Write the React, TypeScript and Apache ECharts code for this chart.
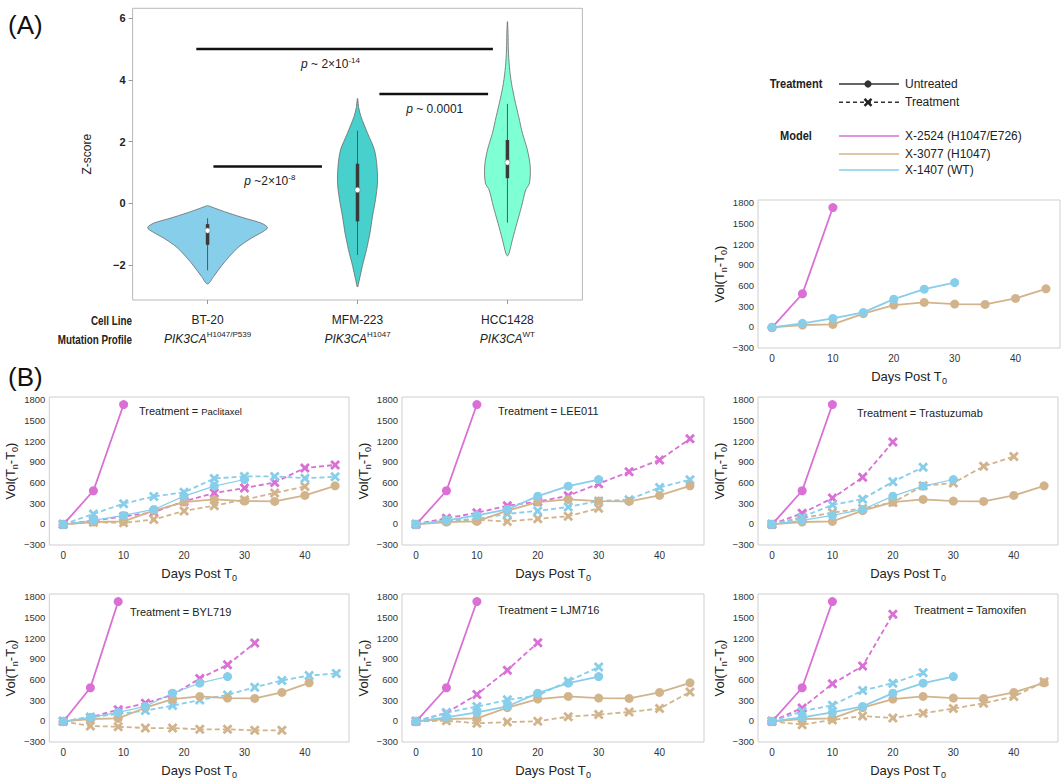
import React, { useEffect, useRef } from 'react';
import * as echarts from 'echarts';

// ---------- Panel A data ----------
const cellLines = ['BT-20', 'MFM-223', 'HCC1428'];
const mutations = ['H1047/P539', 'H1047', 'WT'];
const violinColors = ['#87CEEB', '#48D1CC', '#7FFFD4'];
// [z, half-width in category units]
const bt20Profile = [[-2.62, 0], [-2.38, 0.04], [-2.05, 0.09], [-1.73, 0.145], [-1.41, 0.21], [-1.14, 0.29], [-0.92, 0.37], [-0.79, 0.4], [-0.65, 0.36], [-0.49, 0.25], [-0.32, 0.14], [-0.13, 0.03], [-0.08, 0]];
const mfm223Profile = [[-2.72, 0], [-2.49, 0.012], [-2.05, 0.032], [-1.51, 0.06], [-0.97, 0.083], [-0.43, 0.1], [0.11, 0.12], [0.65, 0.133], [1.19, 0.13], [1.73, 0.113], [2.27, 0.067], [2.81, 0.023], [3.1, 0.008], [3.4, 0]];
const hcc1428Profile = [[-1.71, 0], [-1.62, 0.011], [-1.19, 0.033], [-0.65, 0.063], [-0.11, 0.094], [0.43, 0.122], [0.65, 0.147], [1.19, 0.152], [1.73, 0.133], [2.27, 0.1], [2.81, 0.075], [3.35, 0.049], [3.89, 0.027], [4.43, 0.013], [5.0, 0.006], [5.5, 0.004], [5.89, 0]];
// [whisker low, q1, median, q3, whisker high]
const boxStats = [[-2.18, -1.35, -0.89, -0.68, -0.49], [-1.68, -0.59, 0.43, 1.28, 2.35], [-0.63, 0.81, 1.32, 2.05, 3.22]];
// [x1, x2, z, label x]
const sigBars = [[-0.075, 1.903, 5.0, 0.82], [1.146, 1.871, 3.54, 1.515], [0.039, 0.763, 1.19, 0.415]];
const sigLabels = ['{i|p} ~ 2×10{s|-14}', '{i|p} ~ 0.0001', '{i|p} ~2×10{s|-8}'];
const zTicks = [-2, 0, 2, 4, 6];

// ---------- Panel B data ----------
const days = [0, 5, 10, 15, 20, 25, 30, 35, 40, 45];
const bylDays = [0, 4.5, 9.1, 13.6, 18.1, 22.6, 27.2, 31.7, 36.2, 40.7, 45.2];
const dayTicks = [0, 10, 20, 30, 40];
const volTicks = [-300, 0, 300, 600, 900, 1200, 1500, 1800];

const untreatedX2524 = [-15, 478, 1730];
const untreatedX3077 = [-10, 24, 33, 188, 313, 352, 328, 323, 410, 550];
const untreatedX1407 = [-10, 48, 120, 207, 400, 545, 641];

const treatments = ['Paclitaxel', 'LEE011', 'Trastuzumab', 'BYL719', 'LJM716', 'Tamoxifen'];

const paclitaxelX2524 = [-10, 46, 104, 166, 325, 445, 517, 599, 810, 853];
const paclitaxelX3077 = [-10, 22, 12, 60, 185, 262, 349, 445, 541];
const paclitaxelX1407 = [-10, 142, 290, 396, 455, 657, 686, 686, 661, 680];

const lee011X2524 = [-10, 80, 157, 262, 320, 407, 580, 753, 926, 1233];
const lee011X3077 = [-10, 46, 56, 32, 70, 108, 224];
const lee011X1407 = [-10, 46, 70, 142, 185, 243, 329, 349, 527, 637];

const trastuzumabX2524 = [-10, 151, 371, 673, 1185];
const trastuzumabX3077 = [-10, 80, 161, 220, 307, 551, 590, 834, 976];
const trastuzumabX1407 = [-10, 98, 273, 356, 610, 820];

const byl719X2524 = [-10, 49, 160, 253, 374, 612, 812, 1128];
const byl719X3077 = [-10, -78, -88, -107, -107, -126, -126, -141, -141];
const byl719X1407 = [-10, 49, 97, 146, 219, 301, 374, 486, 583, 656, 685];

const ljm716X2524 = [-10, 112, 379, 734, 1133];
const ljm716X3077 = [-10, 0, -39, -20, -10, 58, 88, 126, 175, 418];
const ljm716X1407 = [-10, 117, 204, 302, 365, 574, 778];

const tamoxifenX2524 = [-10, 185, 535, 793, 1547];
const tamoxifenX3077 = [-10, -58, 10, 68, 39, 107, 175, 253, 350, 564];
const tamoxifenX1407 = [-10, 136, 224, 438, 545, 696];

const modelNames = ['X-2524 (H1047/E726)', 'X-3077 (H1047)', 'X-1407 (WT)'];

// ---------- styles ----------
const MAGENTA = '#DA70D6';
const TAN = '#D2B48C';
const BLUE = '#87CEEB';
const fontR = 'Liberation Sans, Arial, Helvetica, sans-serif';
const fontN = 'Liberation Sans Narrow, Arial Narrow, Liberation Sans, Arial, sans-serif';
const XSYM = 'path://M2,0 L5,3 L8,0 L10,2 L7,5 L10,8 L8,10 L5,7 L2,10 L0,8 L3,5 L0,2 Z';

const panelGrids = [
  { left: 758, top: 200, width: 302, height: 148 },
  { left: 47, top: 397, width: 302, height: 148 },
  { left: 402, top: 397, width: 302, height: 148 },
  { left: 758, top: 397, width: 300, height: 148 },
  { left: 47, top: 594, width: 302, height: 148 },
  { left: 402, top: 594, width: 302, height: 148 },
  { left: 758, top: 594, width: 300, height: 148 },
];
const titlePos = [
  { left: 139, top: 404 },
  { left: 498, top: 404 },
  { left: 857, top: 406 },
  { left: 130, top: 605 },
  { left: 498, top: 603 },
  { left: 914, top: 603 },
];
const blueUntreatedWidth = [1.8, 1.1, 1.8, 1.1, 1.1, 1.8, 1.8];

const zip = (xs: number[], ys: number[]) => ys.map((v, i) => [xs[i], v]);
const minus = (v: number) => String(v).replace('-', '−');

function panelSeries(gi: number, dx: number[], treated: number[][] | null) {
  const out: any[] = [];
  const untreated = [untreatedX2524, untreatedX3077, untreatedX1407];
  const colors = [MAGENTA, TAN, BLUE];
  if (treated) {
    treated.forEach((vals, k) => {
      out.push({
        type: 'line', xAxisIndex: gi, yAxisIndex: gi, data: zip(dx, vals),
        symbol: XSYM, symbolSize: 10, showSymbol: true,
        lineStyle: { color: colors[k], width: 1.8, type: [5, 3] },
        itemStyle: { color: colors[k] }, z: 3,
      });
    });
  }
  untreated.forEach((vals, k) => {
    out.push({
      type: 'line', xAxisIndex: gi, yAxisIndex: gi, data: zip(dx, vals),
      symbol: 'circle', symbolSize: 9, showSymbol: true,
      lineStyle: { color: colors[k], width: k === 2 ? blueUntreatedWidth[gi - 1] : 1.8 },
      itemStyle: { color: colors[k] }, z: 4,
    });
  });
  return out;
}

export default function App() {
  const ref = useRef<HTMLDivElement>(null);
  useEffect(() => {
    if (!ref.current) return;
    const chart = echarts.init(ref.current, undefined, { renderer: 'svg' });
    const profiles = [bt20Profile, mfm223Profile, hcc1428Profile];

    const subRich = { sub: { fontSize: 9, lineHeight: 10, padding: [9, 0, 0, 0], color: '#222', fontFamily: fontR } };

    const grids: any[] = [
      { left: 132.6, top: 8.3, width: 449.8, height: 291.7, show: true, borderColor: '#b8b8b8', borderWidth: 1 },
      ...panelGrids.map((g) => ({ ...g, show: true, borderColor: '#cfcfcf', borderWidth: 1 })),
    ];

    const xAxes: any[] = [
      {
        type: 'value', gridIndex: 0, min: -0.5, max: 2.5, position: 'bottom',
        axisLine: { show: false, onZero: false }, splitLine: { show: false },
        axisTick: { show: true, customValues: [0, 1, 2], length: 4, lineStyle: { color: '#999' } },
        axisLabel: {
          customValues: [0, 1, 2], margin: 11,
          formatter: (v: number) => `{c|${cellLines[v]}}\n{i|PIK3CA}{s|${mutations[v]}}`,
          rich: {
            c: { fontSize: 12, lineHeight: 18.6, fontFamily: fontR, color: '#222' },
            i: { fontSize: 12, fontStyle: 'italic', lineHeight: 18.6, fontFamily: fontR, color: '#222' },
            s: { fontSize: 8, lineHeight: 10, padding: [0, 0, 8.6, 0], fontFamily: fontR, color: '#222' },
          },
        },
      },
    ];
    const yAxes: any[] = [
      {
        type: 'value', gridIndex: 0, min: -3.14, max: 6.32, position: 'left',
        axisLine: { show: false, onZero: false }, splitLine: { show: false },
        axisTick: { show: true, customValues: zTicks, length: 4, lineStyle: { color: '#999' } },
        axisLabel: {
          customValues: zTicks,
          formatter: (v: number) => minus(v), fontSize: 11, fontWeight: 'bold', fontFamily: fontN, color: '#222', margin: 7,
        },
        name: 'Z-score', nameLocation: 'middle', nameGap: 40,
        nameTextStyle: { fontSize: 12, color: '#222', fontFamily: fontR },
      },
    ];
    panelGrids.forEach((_, k) => {
      const gi = k + 1;
      xAxes.push({
        type: 'value', gridIndex: gi, min: -2.3, max: 47.3, position: 'bottom',
        axisLine: { show: false, onZero: false }, axisTick: { show: false }, splitLine: { show: false },
        axisLabel: { customValues: dayTicks, fontSize: 10, color: '#333', margin: 5, fontFamily: fontN },
        name: 'Days Post T{sub|0}', nameLocation: 'middle', nameGap: 19,
        nameTextStyle: { fontSize: 13, color: '#222', lineHeight: 19, fontFamily: fontR, rich: subRich },
      });
      yAxes.push({
        type: 'value', gridIndex: gi, min: -310, max: 1840, position: 'left',
        axisLine: { show: false, onZero: false }, axisTick: { show: false }, splitLine: { show: false },
        axisLabel: { customValues: volTicks, formatter: (v: number) => minus(v), fontSize: 9.5, color: '#333', margin: 4, fontFamily: fontN },
        name: 'Vol(T{sub|n}-T{sub|0})', nameLocation: 'middle', nameGap: 24,
        nameTextStyle: { fontSize: 13, color: '#222', lineHeight: 19, fontFamily: fontR, rich: subRich },
      });
    });

    const series: any[] = [
      {
        type: 'custom', xAxisIndex: 0, yAxisIndex: 0, clip: false, z: 2,
        data: cellLines.map((_, i) => [i, boxStats[i][2]]),
        renderItem: (params: any, api: any) => {
          const i = params.dataIndex;
          const prof = profiles[i];
          const pts: number[][] = [];
          prof.forEach(([z, hw]) => pts.push(api.coord([i + hw, z])));
          for (let k = prof.length - 2; k >= 1; k--) pts.push(api.coord([i - prof[k][1], prof[k][0]]));
          const [wl, q1, med, q3, wh] = boxStats[i];
          const c = (z: number) => api.coord([i, z]);
          return {
            type: 'group',
            children: [
              { type: 'polygon', shape: { points: pts, smooth: 0.3 }, style: { fill: violinColors[i], stroke: '#6a6a6a', lineWidth: 0.8 } },
              { type: 'line', shape: { x1: c(wl)[0], y1: c(wl)[1], x2: c(wh)[0], y2: c(wh)[1] }, style: { stroke: '#555', lineWidth: 1 } },
              { type: 'line', shape: { x1: c(q1)[0], y1: c(q1)[1], x2: c(q3)[0], y2: c(q3)[1] }, style: { stroke: '#3a3a3a', lineWidth: 3.5 } },
              { type: 'circle', shape: { cx: c(med)[0], cy: c(med)[1], r: 2.6 }, style: { fill: '#fff', stroke: '#777', lineWidth: 0.5 } },
            ],
          };
        },
      },
      {
        type: 'custom', xAxisIndex: 0, yAxisIndex: 0, clip: false, z: 3,
        data: sigBars,
        renderItem: (params: any, api: any) => {
          const [x1, x2, z, tx] = sigBars[params.dataIndex];
          const p1 = api.coord([x1, z]);
          const p2 = api.coord([x2, z]);
          const pt = api.coord([tx, z]);
          return {
            type: 'group',
            children: [
              { type: 'line', shape: { x1: p1[0], y1: p1[1], x2: p2[0], y2: p2[1] }, style: { stroke: '#111', lineWidth: 2.6 } },
              {
                type: 'text', x: pt[0], y: pt[1] + 14.5,
                style: {
                  text: sigLabels[params.dataIndex], fill: '#222', fontSize: 12, fontFamily: fontR, lineHeight: 16,
                  align: 'center', verticalAlign: 'middle', textAlign: 'center', textVerticalAlign: 'middle',
                  rich: {
                    i: { fontStyle: 'italic', fontSize: 12, lineHeight: 16, fontFamily: fontR, fill: '#222', color: '#222' },
                    s: { fontSize: 8, lineHeight: 10, padding: [0, 0, 6, 0], fontFamily: fontR, fill: '#222', color: '#222' },
                  },
                },
              },
            ],
          };
        },
      },
    ];

    series.push(...panelSeries(1, days, null));
    const treatedSets = [
      [paclitaxelX2524, paclitaxelX3077, paclitaxelX1407],
      [lee011X2524, lee011X3077, lee011X1407],
      [trastuzumabX2524, trastuzumabX3077, trastuzumabX1407],
      [byl719X2524, byl719X3077, byl719X1407],
      [ljm716X2524, ljm716X3077, ljm716X1407],
      [tamoxifenX2524, tamoxifenX3077, tamoxifenX1407],
    ];
    treatedSets.forEach((set, k) => {
      const dx = treatments[k] === 'BYL719' ? bylDays : days;
      series.push(...panelSeries(k + 2, dx, set));
    });

    const titles = treatments.map((t, k) => ({
      text: k === 0 ? `{a|Treatment = }{b|${t}}` : `{a|Treatment = ${t}}`,
      left: titlePos[k].left, top: titlePos[k].top, padding: 0,
      textStyle: {
        fontWeight: 'normal', fontSize: 11,
        rich: {
          a: { fontSize: 11, fontWeight: 'normal', color: '#222', fontFamily: fontR, lineHeight: 14 },
          b: { fontSize: 9.5, fontWeight: 'normal', color: '#222', fontFamily: fontR, lineHeight: 14 },
        },
      },
    }));

    const txt = (x: number, y: number, text: string, extra: any = {}, scaleX = 1) => ({
      type: 'text', x, y, scaleX,
      style: {
        text, fill: '#222', fontSize: 12, fontFamily: fontR,
        align: 'left', verticalAlign: 'middle', textAlign: 'left', textVerticalAlign: 'middle', ...extra,
      },
    });
    const hline = (x1: number, x2: number, y: number, stroke: string, dash?: number[]) => ({
      type: 'line', shape: { x1, y1: y, x2, y2: y },
      style: { stroke, lineWidth: 1.6, lineDash: dash },
    });
    const boldN = { fontWeight: 'bold', fontFamily: fontN };

    const graphic: any[] = [
      txt(8, 25, '(A)', { fontSize: 26, fill: '#111' }),
      txt(8, 377, '(B)', { fontSize: 26, fill: '#111' }),
      txt(132, 320.7, 'Cell Line', { align: 'right', textAlign: 'right', ...boldN }, 0.82),
      txt(132, 339.3, 'Mutation Profile', { align: 'right', textAlign: 'right', ...boldN }, 0.82),
      txt(796, 84, 'Treatment', { align: 'center', textAlign: 'center', ...boldN, fontSize: 13 }, 0.85),
      hline(839, 899, 84, '#333'),
      { type: 'circle', shape: { cx: 868, cy: 84, r: 3.6 }, style: { fill: '#333' } },
      txt(905, 84, 'Untreated'),
      hline(839, 899, 102.3, '#333', [4, 3]),
      { type: 'line', shape: { x1: 864.5, y1: 98.8, x2: 871.5, y2: 105.8 }, style: { stroke: '#222', lineWidth: 2.4 } },
      { type: 'line', shape: { x1: 864.5, y1: 105.8, x2: 871.5, y2: 98.8 }, style: { stroke: '#222', lineWidth: 2.4 } },
      txt(905, 102.3, 'Treatment'),
      txt(796, 136, 'Model', { align: 'center', textAlign: 'center', ...boldN, fontSize: 13 }, 0.85),
      hline(839, 899, 136, MAGENTA),
      hline(839, 899, 154, TAN),
      hline(839, 899, 170, BLUE),
      txt(905, 136, modelNames[0]),
      txt(905, 154, modelNames[1]),
      txt(905, 170, modelNames[2]),
    ];

    chart.setOption({
      animation: false,
      textStyle: { fontFamily: fontR },
      title: titles,
      grid: grids,
      xAxis: xAxes,
      yAxis: yAxes,
      series,
      graphic,
    });
    return () => chart.dispose();
  }, []);
  return <div ref={ref} style={{ position: 'absolute', left: 0, top: 0, width: 1062, height: 781, background: '#fff' }} />;
}
